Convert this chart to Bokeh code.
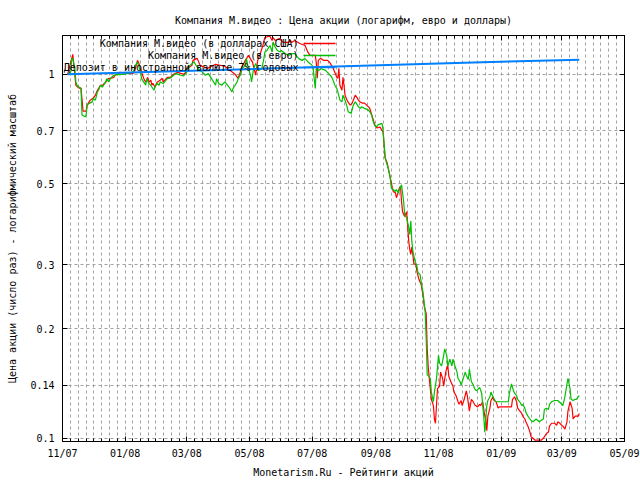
import math
from datetime import datetime, timedelta
import numpy as np
from bokeh.plotting import figure
from bokeh.models import (Range1d, FixedTicker, DatetimeTickFormatter, CustomJSTickFormatter,
                          DatetimeAxis, LogAxis, Label, BoxAnnotation, ColumnDataSource)
from bokeh.embed import file_html
from bokeh.resources import INLINE

# ---------------- data (day number counted from 2007-11-01) ----------------
START = datetime(2007, 11, 1)

usd_days = [5, 10, 13, 16, 18, 20, 23, 24, 27, 30, 32, 34, 37, 39, 42, 45, 47, 50, 51, 54, 56, 61, 69, 71, 73, 74,
            76, 78, 79, 81, 83, 84, 86, 87, 88, 90, 92, 95, 97, 98, 102, 105, 108, 112, 115, 118, 121, 122, 126,
            127, 131, 134, 141, 149, 158, 163, 168, 171, 173, 175, 178, 181, 185, 188, 190, 192, 195, 197, 200,
            202, 204, 205, 207, 211, 215, 220, 222, 223, 226, 231, 236, 239, 241, 246, 247, 248, 249, 251, 254,
            258, 260, 263, 265, 267, 268, 269, 270, 272, 273, 274, 275, 277, 278, 280, 282, 283, 285, 287, 288,
            290, 292, 294, 296, 299, 301, 304, 306, 309, 312, 313, 314, 316, 317, 319, 321, 322, 324, 325, 326,
            328, 329, 330, 331, 333, 335, 336, 337, 338, 339, 340, 341, 342, 344, 345, 347, 349, 351, 352, 354,
            355, 356, 357, 359, 361, 362, 363, 364, 365, 367, 368, 370, 371, 373, 375, 376, 378, 380, 381, 383,
            385, 386, 388, 389, 391, 393, 394, 396, 398, 399, 401, 402, 404, 406, 407, 409, 411, 412, 413, 414,
            416, 417, 419, 420, 422, 424, 425, 437, 438, 440, 442, 443, 445, 447, 448, 450, 451, 453, 455, 456,
            458, 460, 466, 468, 469, 471, 473, 474, 476, 479, 481, 482, 484, 486, 487, 489, 491, 492, 494, 496,
            497, 499, 500, 502, 503]
usd_vals = [1.000, 1.134, 0.933, 0.916, 0.916, 0.792, 0.792, 0.823, 0.849, 0.860, 0.876, 0.904, 0.933, 0.933,
            0.951, 0.975, 0.975, 0.981, 0.994, 1.000, 1.013, 1.006, 1.006, 1.038, 1.092, 1.078, 1.038, 0.994,
            0.975, 0.951, 0.981, 0.951, 0.963, 0.933, 0.945, 0.921, 0.951, 0.963, 0.975, 0.951, 0.981, 0.981,
            1.000, 1.013, 1.006, 1.000, 1.019, 1.038, 1.058, 1.092, 1.106, 1.058, 1.038, 1.065, 1.052, 1.025,
            1.000, 0.975, 1.013, 1.052, 1.092, 1.127, 1.078, 0.994, 1.092, 1.127, 1.200, 1.262, 1.270, 1.270,
            1.238, 1.262, 1.238, 1.254, 1.223, 1.223, 1.238, 1.223, 1.238, 1.215, 1.200, 1.148, 1.127, 1.127,
            1.078, 0.975, 1.092, 1.106, 1.092, 1.092, 1.078, 1.045, 1.013, 0.981, 0.975, 1.038, 0.933, 0.904,
            0.981, 0.933, 0.876, 0.849, 0.838, 0.823, 0.833, 0.849, 0.876, 0.860, 0.849, 0.838, 0.833, 0.833,
            0.823, 0.807, 0.773, 0.726, 0.712, 0.716, 0.694, 0.640, 0.589, 0.571, 0.553, 0.520, 0.488, 0.476,
            0.473, 0.458, 0.467, 0.488, 0.491, 0.447, 0.419, 0.407, 0.419, 0.380, 0.348, 0.330, 0.320, 0.335,
            0.320, 0.301, 0.301, 0.287, 0.273, 0.265, 0.246, 0.231, 0.220, 0.176, 0.157, 0.146, 0.128, 0.123,
            0.113, 0.110, 0.123, 0.137, 0.139, 0.152, 0.146, 0.139, 0.152, 0.159, 0.148, 0.143, 0.139, 0.134,
            0.131, 0.126, 0.124, 0.127, 0.123, 0.128, 0.135, 0.131, 0.119, 0.128, 0.127, 0.124, 0.123, 0.122,
            0.124, 0.123, 0.126, 0.115, 0.113, 0.105, 0.115, 0.121, 0.127, 0.130, 0.127, 0.126, 0.121, 0.122,
            0.122, 0.128, 0.130, 0.126, 0.121, 0.119, 0.117, 0.115, 0.113, 0.111, 0.108, 0.104, 0.101, 0.100,
            0.0988, 0.0988, 0.100, 0.101, 0.103, 0.104, 0.108, 0.110, 0.110, 0.1085, 0.111, 0.110, 0.1085,
            0.108, 0.106, 0.111, 0.119, 0.126, 0.121, 0.113, 0.115, 0.115, 0.115, 0.117]

eur_days = [5, 8, 9, 10, 12, 13, 14, 16, 18, 19, 22, 23, 24, 26, 29, 30, 32, 34, 35, 37, 39, 40, 42, 43, 45, 47,
            50, 53, 56, 63, 69, 71, 73, 74, 76, 77, 79, 81, 82, 84, 86, 87, 89, 90, 92, 94, 95, 98, 102, 105,
            108, 111, 115, 118, 121, 124, 128, 131, 132, 136, 139, 142, 145, 149, 150, 152, 155, 158, 162, 165,
            166, 168, 170, 171, 173, 175, 178, 179, 181, 183, 184, 186, 188, 191, 194, 196, 197, 199, 200, 202,
            204, 205, 207, 209, 212, 213, 217, 220, 223, 226, 230, 233, 236, 239, 243, 244, 246, 247, 249, 252,
            256, 260, 262, 264, 265, 267, 268, 270, 272, 273, 275, 277, 278, 281, 283, 285, 286, 288, 290, 291,
            294, 298, 299, 301, 302, 304, 306, 307, 311, 312, 314, 315, 317, 319, 320, 322, 324, 325, 327, 328,
            330, 332, 333, 335, 337, 338, 339, 340, 341, 343, 345, 346, 348, 349, 351, 353, 354, 355, 356, 358,
            359, 361, 362, 364, 366, 367, 369, 371, 372, 374, 375, 377, 379, 380, 382, 384, 385, 387, 388, 390,
            392, 393, 395, 396, 398, 400, 401, 403, 405, 406, 408, 409, 410, 411, 412, 413, 414, 416, 417, 419,
            421, 422, 434, 435, 437, 439, 440, 442, 443, 445, 447, 448, 450, 451, 453, 455, 456, 458, 461, 464,
            468, 469, 471, 473, 474, 476, 479, 482, 486, 487, 489, 491, 492, 494, 495, 497, 499, 500, 503]
eur_vals = [1.000, 1.015, 1.104, 1.104, 1.036, 0.953, 0.933, 0.923, 0.914, 0.773, 0.764, 0.773, 0.823, 0.832,
            0.840, 0.858, 0.849, 0.895, 0.904, 0.933, 0.923, 0.933, 0.953, 0.973, 0.953, 0.977, 0.994, 0.998,
            0.998, 1.004, 1.015, 1.058, 1.081, 1.058, 1.015, 0.973, 0.953, 0.933, 0.973, 0.943, 0.933, 0.923,
            0.904, 0.923, 0.943, 0.933, 0.953, 0.943, 0.973, 0.977, 0.994, 1.004, 0.994, 0.990, 1.015, 1.058,
            1.081, 1.047, 1.036, 1.015, 0.994, 1.004, 0.973, 0.933, 0.973, 0.943, 0.933, 0.953, 0.923, 0.895,
            0.914, 0.933, 0.953, 0.973, 0.994, 1.036, 1.058, 1.104, 1.036, 0.994, 0.953, 1.036, 1.070, 1.025,
            1.036, 1.104, 1.151, 1.163, 1.176, 1.200, 1.151, 1.226, 1.188, 1.163, 1.151, 1.163, 1.139, 1.127,
            1.139, 1.139, 1.104, 1.092, 1.104, 1.081, 1.058, 1.036, 0.914, 1.036, 1.025, 1.036, 1.025, 0.998,
            0.983, 0.953, 0.933, 0.914, 0.895, 0.849, 0.840, 0.876, 0.849, 0.814, 0.789, 0.781, 0.823, 0.840,
            0.832, 0.814, 0.806, 0.814, 0.806, 0.797, 0.789, 0.773, 0.748, 0.722, 0.718, 0.726, 0.733, 0.703,
            0.594, 0.576, 0.552, 0.519, 0.487, 0.482, 0.477, 0.482, 0.472, 0.482, 0.497, 0.448, 0.412, 0.403,
            0.379, 0.363, 0.395, 0.348, 0.327, 0.307, 0.297, 0.285, 0.282, 0.270, 0.251, 0.222, 0.188, 0.149,
            0.149, 0.146, 0.134, 0.126, 0.134, 0.146, 0.169, 0.161, 0.158, 0.169, 0.176, 0.169, 0.158, 0.165,
            0.158, 0.165, 0.158, 0.152, 0.146, 0.143, 0.140, 0.146, 0.152, 0.149, 0.145, 0.155, 0.143, 0.140,
            0.137, 0.135, 0.137, 0.138, 0.133, 0.123, 0.115, 0.104, 0.113, 0.123, 0.127, 0.130, 0.134, 0.130,
            0.127, 0.126, 0.126, 0.133, 0.141, 0.135, 0.133, 0.131, 0.128, 0.126, 0.123, 0.124, 0.121, 0.118,
            0.115, 0.113, 0.112, 0.111, 0.113, 0.111, 0.113, 0.120, 0.121, 0.120, 0.124, 0.126, 0.127, 0.127,
            0.124, 0.123, 0.130, 0.141, 0.146, 0.137, 0.128, 0.127, 0.128, 0.128, 0.131]

dep_days = [5, 100, 200, 300, 400, 503]
dep_vals = [1.000, 1.018, 1.037, 1.057, 1.077, 1.097]

series_names = ["Компания М.видео (в долларах США)",
                "Компания М.видео (в евро)",
                "Депозит в иностранной валюте 7% годовых"]
series_colors = ["#ff0000", "#00c000", "#0080ff"]

x_tick_months = [(2007, 11), (2008, 1), (2008, 3), (2008, 5), (2008, 7), (2008, 9),
                 (2008, 11), (2009, 1), (2009, 3), (2009, 5)]
y_ticks = [0.1, 0.14, 0.2, 0.3, 0.5, 0.7, 1]

title_text = "Компания М.видео : Цена акции (логарифм, евро и доллары)"
xlabel_text = "Monetarism.Ru - Рейтинги акций"
ylabel_text = "Цена акции (число раз) - логарифмический масштаб"

FONT = "DejaVu Sans Mono"
FS = "10px"


def to_dates(days):
    return [START + timedelta(days=d) for d in days]


def ms(dt):
    return (dt - datetime(1970, 1, 1)).total_seconds() * 1000.0


# ---------------- figure ----------------
p = figure(width=640, height=480, x_axis_type="datetime", y_axis_type="log",
           output_backend="svg", toolbar_location=None,
           x_range=Range1d(START, datetime(2009, 5, 1)), y_range=Range1d(0.098, 1.278),
           min_border_left=62, min_border_right=16, min_border_top=35, min_border_bottom=37)
p.background_fill_color = "white"
p.border_fill_color = "white"
p.outline_line_color = "black"
p.outline_line_width = 1

p.title.text = title_text
p.title.align = "center"
p.title.text_font = FONT
p.title.text_font_size = FS
p.title.text_font_style = "normal"
p.title.text_color = "black"
p.title.standoff = 20

major = [ms(datetime(y, m, 1)) for (y, m) in x_tick_months]
minor = []
for a, b in zip(major[:-1], major[1:]):
    minor.extend(list(np.linspace(a, b, 9)[1:-1]))
xt = FixedTicker(ticks=major, minor_ticks=minor)
yt = FixedTicker(ticks=y_ticks, minor_ticks=[])

fmt = "%m/%y"
xfmt = DatetimeTickFormatter(microseconds=fmt, milliseconds=fmt, seconds=fmt, minsec=fmt, minutes=fmt,
                             hourmin=fmt, hours=fmt, days=fmt, months=fmt, years=fmt)
blank = CustomJSTickFormatter(code="return '';")


def style_axis(ax, labels=True):
    ax.major_tick_in = 5
    ax.major_tick_out = 0
    ax.minor_tick_in = 3
    ax.minor_tick_out = 0
    ax.axis_line_color = "black"
    ax.major_tick_line_color = "black"
    ax.minor_tick_line_color = "black"
    ax.major_label_text_font = FONT
    ax.axis_label_text_font = FONT
    ax.axis_label_text_font_size = FS
    ax.axis_label_text_font_style = "normal"
    ax.axis_label_text_color = "black"
    if labels:
        ax.major_label_text_font_size = FS
        ax.major_label_text_color = "black"
    else:
        ax.major_label_text_font_size = "0px"
        ax.major_label_text_color = None
        ax.major_label_standoff = 0


xa = p.xaxis[0]
xa.ticker = xt
xa.formatter = xfmt
style_axis(xa)
xa.major_label_standoff = 6
xa.axis_label = xlabel_text
xa.axis_label_standoff = 5

ya = p.yaxis[0]
ya.ticker = yt
ya.formatter = CustomJSTickFormatter(code="return tick.toString();")
style_axis(ya)
ya.major_label_standoff = 8
ya.axis_label = ylabel_text
ya.axis_label_standoff = 9

top = DatetimeAxis(ticker=xt, formatter=blank)
style_axis(top, labels=False)
p.add_layout(top, "above")
right = LogAxis(ticker=yt, formatter=blank)
style_axis(right, labels=False)
p.add_layout(right, "right")

p.xgrid.ticker = xt
p.ygrid.ticker = yt
for g in (p.xgrid[0], p.ygrid[0]):
    g.grid_line_color = "#a0a0a0"
    g.grid_line_dash = "3 3"
    g.grid_line_width = 1
p.xgrid.minor_grid_line_color = "#a0a0a0"
p.xgrid.minor_grid_line_dash = "3 3"

# ---------------- series ----------------
src_usd = ColumnDataSource(dict(x=to_dates(usd_days), y=usd_vals))
src_eur = ColumnDataSource(dict(x=to_dates(eur_days), y=eur_vals))
src_dep = ColumnDataSource(dict(x=to_dates(dep_days), y=dep_vals))
p.line("x", "y", source=src_usd, line_color=series_colors[0], line_width=1.2)
p.line("x", "y", source=src_eur, line_color=series_colors[1], line_width=1.2)
p.line("x", "y", source=src_dep, line_color=series_colors[2], line_width=2)

# ---------------- key (text left, sample right) ----------------
frame_h = 408
for i, (name, col) in enumerate(zip(series_names, series_colors)):
    sy = frame_h - 10 - 12 * i
    p.add_layout(Label(x=236, y=sy, x_units="screen", y_units="screen", text=name,
                       text_font=FONT, text_font_size=FS, text_align="right",
                       text_baseline="middle", text_color="black"))
    p.add_layout(BoxAnnotation(left=241, right=273, bottom=sy - 0.7, top=sy + 0.7,
                               left_units="screen", right_units="screen",
                               bottom_units="screen", top_units="screen",
                               fill_color=col, fill_alpha=1, line_alpha=0))

open("out.html", "w").write(file_html(p, INLINE))
